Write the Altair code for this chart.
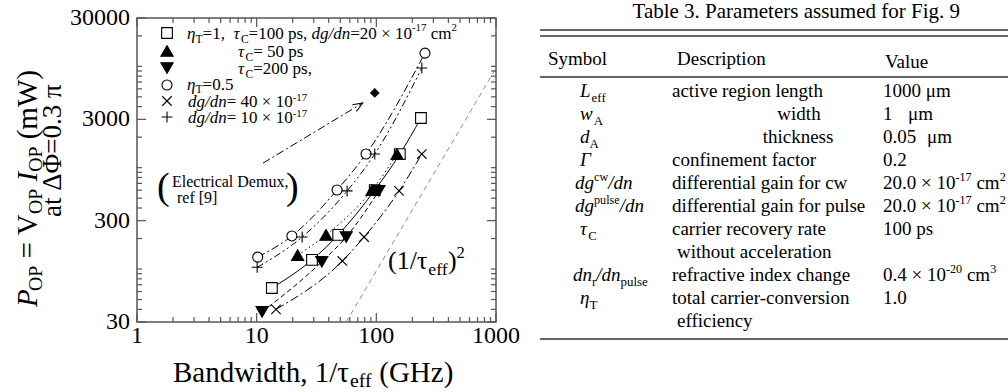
import math
import altair as alt
import pandas as pd

FONT = "Liberation Serif"

# ---- operating power P_OP (mW) against bandwidth 1/tau_eff (GHz) ----
bw_base = [13.4, 29, 48, 97, 157, 236]        # eta_T=1, tau_C=100 ps, dg/dn=20e-17
p_base = [65, 123, 217, 600, 1360, 3090]
bw_tc50 = [22, 38, 92, 149]                   # tau_C = 50 ps
p_tc50 = [137, 217, 600, 1360]
bw_tc200 = [11.1, 35, 56, 105]                # tau_C = 200 ps
p_tc200 = [37.7, 118, 207, 590]
bw_eta05 = [10.2, 19.7, 47, 82, 255]          # eta_T = 0.5
p_eta05 = [131, 212, 602, 1364, 13500]
bw_dg40 = [14.5, 52, 79, 155, 240]            # dg/dn = 40e-17
p_dg40 = [40, 120, 207, 590, 1364]
bw_dg10 = [10.1, 24, 57, 97, 240]             # dg/dn = 10e-17
p_dg10 = [104, 207, 590, 1364, 9620]
bw_demux = [97]                               # electrical demux, ref [9]
p_demux = [5460]
bw_sqlaw = [56, 1000]                         # (1/tau_eff)^2 guide
p_sqlaw = [30, 9600]
bw_arrow = [11.3, 77]                         # pointer towards the demux point
p_arrow = [1110, 4350]

x_major = [1, 10, 100, 1000]
x_minor = [2, 3, 4, 5, 6, 7, 8, 9, 20, 30, 40, 50, 60, 70, 80, 90,
           200, 300, 400, 500, 600, 700, 800, 900]
y_major = [30, 300, 3000, 30000]
y_minor = [40, 50, 60, 70, 80, 90, 100, 200, 400, 500, 600, 700, 800, 900, 1000,
           2000, 4000, 5000, 6000, 7000, 8000, 9000, 10000, 20000]

# plot area placement on the page
X0, Y0 = 137, 18
PW, PH = 359, 304

xs = alt.Scale(type="log", domain=[1, 1000], nice=False)
ys = alt.Scale(type="log", domain=[30, 30000], nice=False)
XE = alt.X("bw:Q", scale=xs, axis=None)
YE = alt.Y("p:Q", scale=ys, axis=None)

layers = []

CROSS = "M-1,-1L1,1M-1,1L1,-1"
PLUS = "M-1,0L1,0M0,-1L0,1"

# name, x, y, shape, fill, size, dash, legend row centre
series = [
    ("base", bw_base, p_base, "square", "white", 115, None, 33),
    ("tc50", bw_tc50, p_tc50, "triangle-up", "black", 150, [1.5, 3], 51),
    ("tc200", bw_tc200, p_tc200, "triangle-down", "black", 150, [5, 3], 68),
    ("eta05", bw_eta05, p_eta05, "circle", "white", 100, [8, 3, 2, 3], 85),
    ("dg40", bw_dg40, p_dg40, CROSS, None, 90, [9, 3, 2, 3], 101),
    ("dg10", bw_dg10, p_dg10, PLUS, None, 120, [7, 3, 2, 3, 2, 3], 117),
]

# (1/tau_eff)^2 guide
layers.append(
    alt.Chart(pd.DataFrame({"bw": bw_sqlaw, "p": p_sqlaw}))
    .mark_line(color="#8a8a8a", strokeWidth=1, strokeDash=[5, 4])
    .encode(x=XE, y=YE)
)

for name, bx, py, shape, fill, size, dash, row in series:
    df = pd.DataFrame({"bw": bx, "p": py})
    line_kw = dict(color="black", strokeWidth=1, interpolate="monotone")
    if dash:
        line_kw["strokeDash"] = dash
    layers.append(alt.Chart(df).mark_line(**line_kw).encode(x=XE, y=YE))

for name, bx, py, shape, fill, size, dash, row in series:
    df = pd.DataFrame({"bw": bx, "p": py})
    if fill is None:
        pt_kw = dict(shape=shape, filled=False, color="black", strokeWidth=1.1, size=size, opacity=1)
    else:
        pt_kw = dict(shape=shape, filled=True, fill=fill, stroke="black", strokeWidth=1.1,
                     size=size, opacity=1, fillOpacity=1)
    layers.append(alt.Chart(df).mark_point(**pt_kw).encode(x=XE, y=YE))
    # legend key
    layers.append(
        alt.Chart(pd.DataFrame({"k": [name]})).mark_point(**pt_kw)
        .encode(x=alt.value(167 - X0), y=alt.value(row - Y0))
    )

# electrical demux point and its pointer
layers.append(
    alt.Chart(pd.DataFrame({"bw": bw_demux, "p": p_demux}))
    .mark_point(shape="diamond", filled=True, color="black", size=95, opacity=1)
    .encode(x=XE, y=YE)
)
layers.append(
    alt.Chart(pd.DataFrame({"bw": bw_arrow, "p": p_arrow}))
    .mark_line(color="black", strokeWidth=1, strokeDash=[8, 3, 2, 3])
    .encode(x=XE, y=YE)
)
dxp = PW / 3 * math.log10(bw_arrow[1] / bw_arrow[0])
dyp = -PH / 3 * math.log10(p_arrow[1] / p_arrow[0])
head_angle = math.degrees(math.atan2(dyp, dxp)) % 360
layers.append(
    alt.Chart(pd.DataFrame({"bw": bw_arrow[1:], "p": p_arrow[1:]}))
    .mark_point(shape="M-1,-0.4L0,0L-1,0.4", filled=False, color="black", strokeWidth=1,
                size=380, angle=head_angle, opacity=1)
    .encode(x=XE, y=YE)
)

# inward ticks on all four sides
TICK = "#555555"
for vals, ln in ((x_major, 9), (x_minor, 5)):
    d = pd.DataFrame({"bw": vals})
    layers.append(alt.Chart(d).mark_rule(color=TICK, strokeWidth=1.2)
                  .encode(x=XE, y=alt.value(PH), y2=alt.value(PH - ln)))
    layers.append(alt.Chart(d).mark_rule(color=TICK, strokeWidth=1.2)
                  .encode(x=XE, y=alt.value(0), y2=alt.value(ln)))
for vals, ln in ((y_major, 9), (y_minor, 5)):
    d = pd.DataFrame({"p": vals})
    layers.append(alt.Chart(d).mark_rule(color=TICK, strokeWidth=1.2)
                  .encode(y=YE, x=alt.value(0), x2=alt.value(ln)))
    layers.append(alt.Chart(d).mark_rule(color=TICK, strokeWidth=1.2)
                  .encode(y=YE, x=alt.value(PW), x2=alt.value(PW - ln)))

# tick labels, placed through the same log scales
layers.append(
    alt.Chart(pd.DataFrame({"bw": x_major, "lab": [str(v) for v in x_major]}))
    .mark_text(font=FONT, fontSize=24, align="center", baseline="middle", color="black")
    .encode(x=XE, y=alt.value(PH + 14), text="lab:N")
)
layers.append(
    alt.Chart(pd.DataFrame({"p": y_major, "lab": [str(v) for v in y_major]}))
    .mark_text(font=FONT, fontSize=24, align="right", baseline="middle", color="black")
    .encode(y=YE, x=alt.value(-7), text="lab:N")
)

# ---- text runs with sub/superscripts ----
ADV = {" ": .25, "=": .564, ",": .25, ".": .25, "/": .278, "(": .333, ")": .333,
       "×": .564, "-": .333, "[": .333, "]": .333, "a": .444, "b": .5, "c": .444,
       "d": .5, "e": .444, "f": .333, "g": .5, "h": .5, "i": .278, "l": .278,
       "m": .778, "n": .5, "o": .5, "p": .5, "r": .333, "s": .389, "t": .278,
       "u": .5, "v": .5, "w": .722, "x": .5, "y": .5, "z": .444, "A": .722,
       "B": .667, "C": .667, "D": .722, "E": .611, "F": .556, "G": .722, "H": .722,
       "I": .333, "L": .611, "O": .722, "P": .556, "T": .611, "V": .722, "W": .944,
       "η": .5, "τ": .44, "Δ": .61, "Φ": .76, "π": .55, "Γ": .58, "μ": .5}


def adv(s, fs):
    return sum(ADV.get(c, .5) for c in s) * fs


frags = []


def run(x, y, pieces, fs, vertical=False, sub=0.26, sup=0.42):
    pos = y if vertical else x
    for text, mode in pieces:
        if mode.startswith("_"):
            f, shift = fs * 0.68, sub * fs
        elif mode.startswith("^"):
            f, shift = fs * 0.64, -sup * fs
        else:
            f, shift = fs, 0.0
        body = text.strip(" ")
        lead = adv(text[: len(text) - len(text.lstrip(" "))], f)
        if body:
            if vertical:
                frags.append(dict(px=x + shift - X0, py=pos - lead - Y0, t=body, fs=f,
                                  it="i" in mode, rot=True))
            else:
                frags.append(dict(px=pos + lead - X0, py=y + shift - Y0, t=body, fs=f,
                                  it="i" in mode, rot=False))
        pos += -adv(text, f) if vertical else adv(text, f)


def centred(cx, y, text, fs):
    run(cx - adv(text, fs) / 2, y, [(text, "r")], fs)


# legend lines
LF = 17
run(187, 38.5, [("η", "i"), ("T", "_r"), ("=1,  ", "r"), ("τ", "i"), ("C", "_r"),
                ("=100 ps, ", "r"), ("dg/dn", "i"), ("=20 × 10", "r"), ("-17", "^r"),
                (" cm", "r"), ("2", "^r")], LF)
run(238, 56.5, [("τ", "i"), ("C", "_r"), ("=  50 ps", "r")], LF)
run(238, 73.5, [("τ", "i"), ("C", "_r"), ("=200 ps,", "r")], LF)
run(187, 90, [("η", "i"), ("T", "_r"), ("=0.5", "r")], LF, sub=0.2)
run(188, 107, [("dg/dn", "i"), ("= 40 × 10", "r"), ("-17", "^r")], LF, sup=0.36)
run(188, 123, [("dg/dn", "i"), ("= 10 × 10", "r"), ("-17", "^r")], LF, sup=0.36)

# demux note
run(172, 187, [("Electrical Demux,", "r")], 16)
run(177, 203, [("ref [9]", "r")], 16)
run(157, 199, [("(", "r")], 38)
run(286, 199, [(")", "r")], 38)

# square-law label
run(388, 269, [("(1/τ", "r"), ("eff", "_r"), (")", "r"), ("2", "^r")], 26, sub=0.22)

# axis titles
run(173, 382, [("Bandwidth, 1/τ", "r"), ("eff", "_r"), (" (GHz)", "r")], 29, sub=0.17)
run(37, 307, [("P", "i"), ("OP", "_r"), (" = V", "r"), ("OP", "_r"), (" ", "r"),
              ("I", "i"), ("OP", "_r"), (" (mW)", "r")], 29, vertical=True, sub=0.18)
run(61, 217, [("at ΔΦ=0.3 π", "r")], 27, vertical=True)

# ---- parameter table ----
TF = 19
centred(797, 18, "Table 3. Parameters assumed for Fig. 9", 21)
run(548, 64.5, [("Symbol", "r")], TF)
run(677, 64.5, [("Description", "r")], TF)
run(885, 67.5, [("Value", "r")], TF)

rows_y = [97, 120, 143, 166, 189, 212, 235, 258, 281, 304, 327]
sym = [
    (580, [("L", "i"), ("eff", "_r")]),
    (580, [("w", "i"), ("A", "_r")]),
    (580, [("d", "i"), ("A", "_r")]),
    (580, [("Γ", "i")]),
    (575, [("dg", "i"), ("cw", "^r"), ("/dn", "i")]),
    (575, [("dg", "i"), ("pulse", "^r"), ("/dn", "i")]),
    (580, [("τ", "i"), ("C", "_r")]),
    None,
    (573, [("dn", "i"), ("r", "_r"), ("/dn", "i"), ("pulse", "_r")]),
    (580, [("η", "i"), ("T", "_r")]),
    None,
]
desc = ["active region length", None, None, "confinement factor",
        "differential gain for cw", "differential gain for pulse",
        "carrier recovery rate", "without acceleration", "refractive index change",
        "total carrier-conversion", "efficiency"]
vals = [
    [("1000 μm", "r")], None, None, [("0.2", "r")],
    [("20.0 × 10", "r"), ("-17", "^r"), (" cm", "r"), ("2", "^r")],
    [("20.0 × 10", "r"), ("-17", "^r"), (" cm", "r"), ("2", "^r")],
    [("100 ps", "r")], None,
    [("0.4 × 10", "r"), ("-20", "^r"), (" cm", "r"), ("3", "^r")],
    [("1.0", "r")], None,
]
for i, y in enumerate(rows_y):
    if sym[i]:
        run(sym[i][0], y, sym[i][1], TF)
    if desc[i]:
        run(677 if desc[i] in ("without acceleration", "efficiency") else 672, y,
            [(desc[i], "r")], TF)
    if vals[i]:
        run(883, y, vals[i], TF)
centred(799, rows_y[1], "width", TF)
centred(798, rows_y[2], "thickness", TF)
run(883, rows_y[1], [("1", "r")], TF)
run(908, rows_y[1], [("μm", "r")], TF)
run(883, rows_y[2], [("0.05", "r")], TF)
run(927, rows_y[2], [("μm", "r")], TF)

fr = pd.DataFrame(frags)
for it in (False, True):
    for rot in (False, True):
        sub = fr[(fr.it == it) & (fr.rot == rot)]
        if sub.empty:
            continue
        mk = dict(align="left", baseline="alphabetic", font=FONT, color="black",
                  fontStyle="italic" if it else "normal")
        if rot:
            mk["angle"] = 270
        layers.append(
            alt.Chart(sub).mark_text(**mk).encode(
                x=alt.X("px:Q", scale=None, axis=None),
                y=alt.Y("py:Q", scale=None, axis=None),
                text="t:N",
                size=alt.Size("fs:Q", scale=None, legend=None),
            )
        )

# table rules
rules = pd.DataFrame({"py": [30 - Y0, 36 - Y0, 77 - Y0, 339 - Y0]})
layers.append(
    alt.Chart(rules).mark_rule(color="#333333", strokeWidth=1.3).encode(
        y=alt.Y("py:Q", scale=None, axis=None),
        x=alt.value(540 - X0), x2=alt.value(1008 - X0))
)

chart = (
    alt.layer(*layers)
    .properties(width=PW, height=PH, autosize=alt.AutoSizeParams(type="none"),
                padding={"left": X0, "top": Y0, "right": 1008 - X0 - PW, "bottom": 392 - Y0 - PH},
                background="white")
    .configure_view(stroke="#555555", strokeWidth=1.5)
)
chart.save("out.html", embed_options={"renderer": "svg", "actions": False})
